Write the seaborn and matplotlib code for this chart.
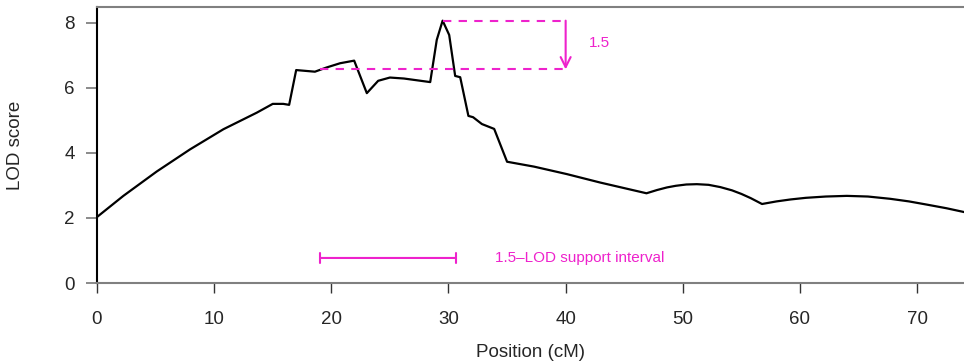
import matplotlib
matplotlib.use("Agg")
import matplotlib.pyplot as plt
import seaborn as sns
import pandas as pd

# LOD profile
position = [0, 2.25, 5.1, 7.94, 10.79, 13.64, 15.0, 15.9, 16.4, 17.0, 18.6, 19.6,
            20.75, 21.95, 23.03, 24.0, 25.0, 26.2, 28.44, 29.0, 29.5, 30.06, 30.57,
            31.0, 31.7, 32.1, 32.85, 33.9, 35.0, 37.3, 40.1, 42.95, 46.9, 47.8,
            48.65, 49.4, 50.3, 51.2, 52.2, 53.2, 54.2, 55.0, 55.8, 56.76, 58.0,
            59.2, 60.5, 62.2, 64.0, 65.8, 67.7, 69.3, 70.85, 72.5, 74.04]
lod = [2.03, 2.68, 3.43, 4.11, 4.73, 5.24, 5.51, 5.51, 5.48, 6.55, 6.50, 6.63,
       6.76, 6.84, 5.84, 6.22, 6.32, 6.29, 6.18, 7.48, 8.07, 7.63, 6.37,
       6.33, 5.14, 5.10, 4.89, 4.74, 3.73, 3.58, 3.35, 3.09, 2.76, 2.86,
       2.94, 2.99, 3.03, 3.04, 3.02, 2.95, 2.85, 2.74, 2.61, 2.43, 2.51,
       2.57, 2.62, 2.66, 2.68, 2.66, 2.59, 2.51, 2.41, 2.30, 2.18]

drop = 1.5
interval = [19.04, 30.6]
interval_y = 0.77
marker_x = 40
x_ticks = [0, 10, 20, 30, 40, 50, 60, 70]
y_ticks = [0, 2, 4, 6, 8]

mag = "#EE22CC"

df = pd.DataFrame({"pos": position, "lod": lod})

sns.set_theme(style="white")
plt.rcParams["font.family"] = ["Liberation Sans", "DejaVu Sans"]

fig = plt.figure(figsize=(9.64, 3.64), dpi=100)
ax = fig.add_axes([97 / 964, 81 / 364, 867 / 964, 276 / 364])

sns.lineplot(data=df, x="pos", y="lod", ax=ax, color="black", lw=1.6, estimator=None)

peak = df["lod"].max()
peak_x = df.loc[df["lod"].idxmax(), "pos"]

# dashed guides + arrow for the drop
dash = (0, (4, 3.5))
ax.plot([peak_x, marker_x], [peak, peak], ls=dash, color=mag, lw=1.5)
ax.plot([interval[0], marker_x], [peak - drop, peak - drop], ls=dash, color=mag, lw=1.5)
ax.annotate("", xy=(marker_x, peak - drop), xytext=(marker_x, peak),
            arrowprops=dict(arrowstyle="->,head_length=0.6,head_width=0.3", color=mag,
                            lw=1.5, shrinkA=0, shrinkB=0))
ax.text(marker_x + 2.0, peak - drop / 2 + 0.05, "1.5", color=mag, fontsize=11,
        ha="left", va="center")

# support interval
ax.annotate("", xy=(interval[1], interval_y), xytext=(interval[0], interval_y),
            arrowprops=dict(arrowstyle="|-|,widthA=0.3,widthB=0.3", color=mag,
                            lw=1.5, shrinkA=0, shrinkB=0))
ax.text(34.0, interval_y, "1.5\u2013LOD support interval", color=mag, fontsize=11,
        ha="left", va="center")

ax.set_xlim(0, 74.0)
ax.set_ylim(0, 8.49)
ax.set_xticks(x_ticks)
ax.set_yticks(y_ticks)

for s in ["top", "bottom"]:
    ax.spines[s].set_color("#808080")
    ax.spines[s].set_linewidth(1.5)
ax.spines["left"].set_color("black")
ax.spines["left"].set_linewidth(1.5)
ax.spines["right"].set_visible(False)

ax.tick_params(axis="x", direction="out", length=7.2, width=1, color="#333333",
               pad=13, labelsize=13.5, bottom=True)
ax.tick_params(axis="y", direction="out", length=8, width=1.2, color="#777777",
               pad=8, labelsize=13.5, left=True)

ax.set_xlabel("Position (cM)", fontsize=13.5)
ax.set_ylabel("LOD score", fontsize=13.5)
ax.xaxis.set_label_coords(0.5, -0.222)
ax.yaxis.set_label_coords(-0.084, 0.5)

fig.savefig("out.png", dpi=100)
